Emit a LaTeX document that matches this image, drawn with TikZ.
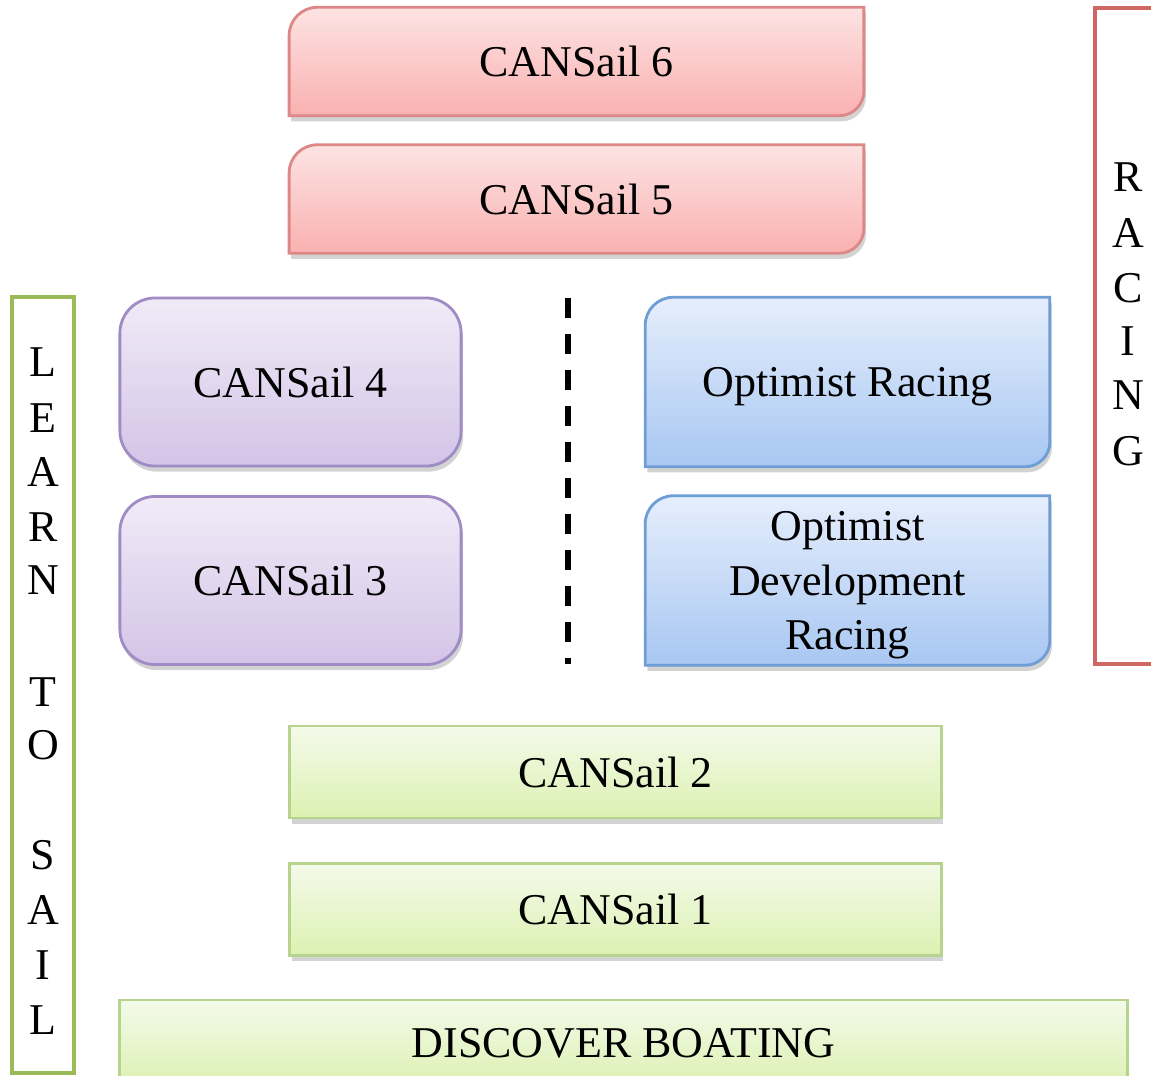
\documentclass[tikz,border=0pt]{standalone}
\usepackage{fontspec}
\setmainfont{Liberation Serif}
\usetikzlibrary{shadows,backgrounds}

\definecolor{pinkline}{HTML}{DC8886}
\definecolor{pinktop}{HTML}{FDE3E3}
\definecolor{pinkbot}{HTML}{F9B1B0}
\definecolor{lilacline}{HTML}{A08CC4}
\definecolor{lilactop}{HTML}{F0EBF7}
\definecolor{lilacbot}{HTML}{D4C4E7}
\definecolor{skyline}{HTML}{6F9DD6}
\definecolor{skytop}{HTML}{E5EEFC}
\definecolor{skybot}{HTML}{A8C7F2}
\definecolor{limeline}{HTML}{B7D38E}
\definecolor{limetop}{HTML}{F4FAEA}
\definecolor{limebot}{HTML}{DCF1B2}
\definecolor{learnline}{HTML}{9BBB59}
\definecolor{raceline}{HTML}{D06763}

\tikzset{
  label/.style={font=\fontsize{12.5}{15.6}\selectfont, align=center, inner sep=0pt, text depth=0pt},
  shade/.style={drop shadow={opacity=0.35, shadow xshift=0.6pt, shadow yshift=-1.6pt}},
  pinkbox/.style={shade, draw=pinkline, top color=pinktop, bottom color=pinkbot, line width=0.8pt},
  skybox/.style={shade, draw=skyline, top color=skytop, bottom color=skybot, line width=0.8pt},
  lilacbox/.style={label, shade, draw=lilacline, top color=lilactop, bottom color=lilacbot,
                   line width=0.8pt, rounded corners=10pt, minimum width=3.41cm, minimum height=1.68cm},
  limebox/.style={label, shade, draw=limeline, top color=limetop, bottom color=limebot,
                  line width=0.8pt, minimum height=0.92cm},
  bracket/.style={line width=1.3pt}
}

\begin{document}
\begin{tikzpicture}[x=0.01cm, y=-0.01cm]
    \useasboundingbox (0, 0) rectangle (1151, 1075);

    % Racing levels
    \node [label, minimum width=5.73cm, minimum height=1.07cm] (cs6) at (576.5, 61.5) {CANSail 6};
    \node [label, minimum width=5.73cm, minimum height=1.07cm] (cs5) at (576.5, 199) {CANSail 5};

    % Optimist
    \node [label, minimum width=4.03cm, minimum height=1.68cm] (optr) at (847.5, 382) {Optimist Racing};
    \node [label, minimum width=4.03cm, minimum height=1.68cm] (optd) at (847.5, 580.5)
          {Optimist\\Development\\Racing};

    % Corner-cut boxes behind the labels
    \begin{scope}[on background layer]
      \foreach \n/\s in {cs6/pinkbox, cs5/pinkbox, optr/skybox, optd/skybox}
        \path [\s] ([yshift=-8pt]\n.north west) arc [start angle=180, end angle=90, radius=8pt]
              -- (\n.north east) -- ([yshift=7pt]\n.south east)
              arc [start angle=0, end angle=-90, radius=7pt] -- (\n.south west) -- cycle;
    \end{scope}

    % CANSail 4 and 3
    \node [lilacbox] (cs4) at (290.5, 382) {CANSail 4};
    \node [lilacbox] (cs3) at (290.5, 580.5) {CANSail 3};

    % Divider
    \coordinate (dtop) at (568, 298);
    \coordinate (dbot) at (568, 664);
    \draw [line width=1.9pt, dash pattern=on 0.2cm off 0.16cm] (dtop) -- (dbot);

    % Learn to sail levels
    \node [limebox, minimum width=6.51cm] (cs2) at (615.5, 772) {CANSail 2};
    \node [limebox, minimum width=6.51cm] (cs1) at (615.5, 909.5) {CANSail 1};
    \node [limebox, minimum width=10.07cm, minimum height=0.86cm] (disc) at (623.5, 1043) {DISCOVER BOATING};

    % Side brackets
    \draw [bracket, draw=learnline] (12, 297) rectangle (74, 1073);
    \draw [bracket, draw=raceline] (1095, 8) rectangle (1175, 664);

    \foreach \l/\y in {L/362, E/418, A/472, R/527, N/580, T/692, O/745, S/855, A/910, I/965, L/1020}
      \node [label] (learn\y) at (43, \y) {\l};
    \foreach \l/\y in {R/177, A/233, C/288, I/341, N/395, G/451}
      \node [label] (race\y) at (1128, \y) {\l};
  \end{tikzpicture}
\end{document}
